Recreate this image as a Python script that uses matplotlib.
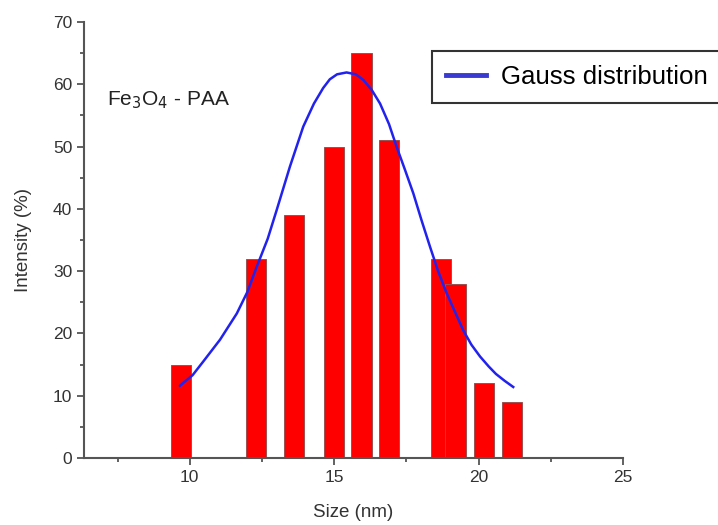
import matplotlib
matplotlib.use('Agg')
import matplotlib.pyplot as plt
from matplotlib.ticker import MultipleLocator

plt.rcParams['font.family'] = ['Liberation Sans', 'DejaVu Sans']

# bar data
size_nm = [9.7, 12.3, 13.6, 15.0, 15.95, 16.9, 18.7, 19.2, 20.2, 21.17]
intensity = [15, 32, 39, 50, 65, 51, 32, 28, 12, 9]
bar_width = 0.7

# gauss curve, points
gauss_x = [9.66, 10.1, 10.47, 11.05, 11.63, 12.0, 12.32, 12.7, 13.01, 13.47, 13.93, 14.3,
           14.62, 14.85, 15.1, 15.43, 15.75, 16.01, 16.3, 16.59, 16.9, 17.16, 17.45,
           17.74, 18.03, 18.32, 18.6, 18.9, 19.2, 19.47, 19.75, 20.05, 20.35, 20.6,
           20.9, 21.2]
gauss_y = [11.6, 13.3, 15.5, 19.0, 23.2, 26.7, 30.7, 35.2, 39.8, 46.8, 53.2, 56.9,
           59.4, 60.8, 61.6, 61.9, 61.6, 60.7, 59.1, 56.9, 53.6, 50.0, 46.3,
           42.5, 38.1, 33.9, 30.0, 26.4, 23.3, 20.5, 18.2, 16.3, 14.7, 13.5,
           12.4, 11.4]

fig = plt.figure(figsize=(7.18, 5.25), dpi=100)
ax = fig.add_axes([84/718, 1-458/525, (623-84)/718, (458-22)/525])

ax.bar(size_nm, intensity, width=bar_width, color='#ff0000',
       edgecolor='#9a5050', linewidth=0.7, zorder=2)
ax.plot(gauss_x, gauss_y, color='#2222ee', lw=1.8, zorder=3, label='Gauss distribution')

ax.set_xlim(6.34, 25)
ax.set_ylim(0, 70)
ax.xaxis.set_major_locator(MultipleLocator(5))
ax.xaxis.set_minor_locator(MultipleLocator(2.5))
ax.yaxis.set_major_locator(MultipleLocator(10))
ax.yaxis.set_minor_locator(MultipleLocator(5))

for s in ['top', 'right']:
    ax.spines[s].set_visible(False)
for s in ['left', 'bottom']:
    ax.spines[s].set_color('#555555')
    ax.spines[s].set_linewidth(1.5)

ax.tick_params(which='major', direction='out', length=5, width=1.3,
               color='#555555', labelsize=12.5, labelcolor='#333333')
ax.tick_params(which='minor', direction='out', length=3, width=1.3, color='#555555')

ax.set_xlabel('Size (nm)', fontsize=13.5, color='#333333', labelpad=14)
ax.set_ylabel('Intensity (%)', fontsize=13.5, color='#333333', labelpad=15)

ax.text(7.14, 57.5, r'Fe$_3$O$_4$ - PAA', fontsize=15, color='#222222', va='center')

leg = ax.legend(loc='upper left',
                bbox_to_anchor=(432/718, 1-50.7/525, (760-432)/718, 0),
                bbox_transform=fig.transFigure, borderaxespad=0, mode='expand',
                fontsize=18.6, frameon=True, fancybox=False,
                handlelength=1.55, handletextpad=0.58, borderpad=0.55)
leg.get_frame().set_edgecolor('black')
leg.get_frame().set_linewidth(1.5)
leg.get_lines()[0].set_linewidth(3.5)
leg.get_lines()[0].set_color('#3a3ad0')

plt.savefig('out.png', dpi=100)
